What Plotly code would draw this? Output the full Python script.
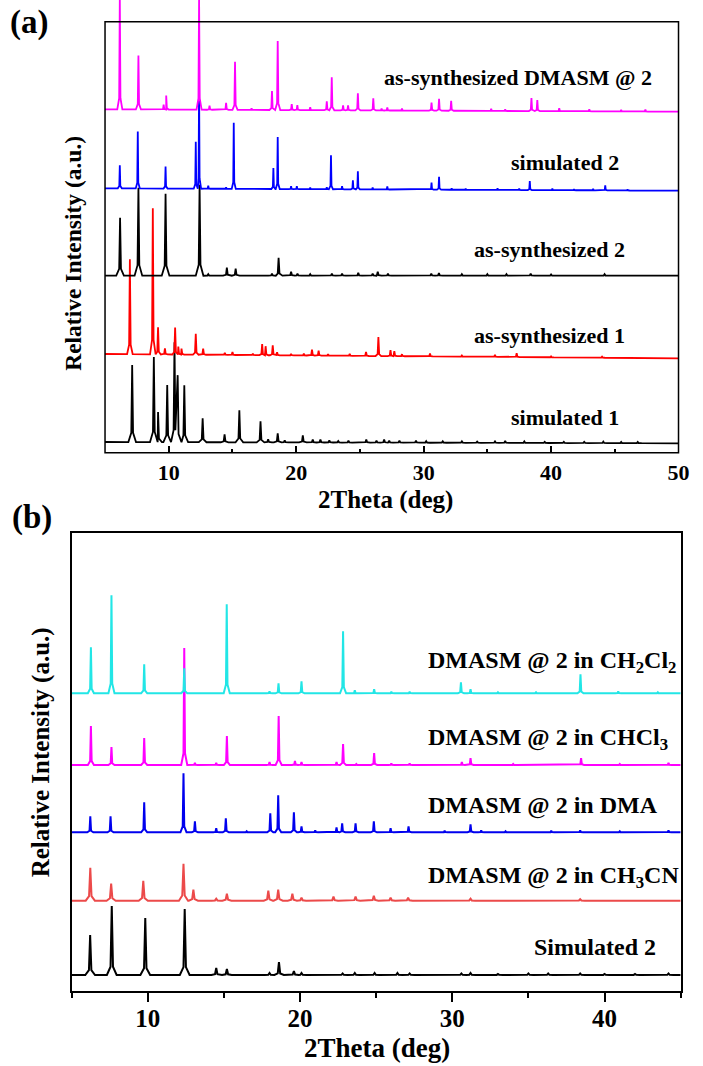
import plotly.graph_objects as go

# ---------------- data: powder XRD peak lists (2theta in deg, relative height) ----------------
# panel (a)
a_sim1_peaks = [(7.13, 77), (8.83, 85), (9.16, 30), (9.88, 57), (10.45, 100), (10.7, 67), (11.22, 57),
                (12.66, 24), (14.38, 8), (15.54, 32), (17.2, 21), (17.8, 3), (18.55, 9), (19.1, 2),
                (20.52, 7), (21.3, 3), (21.9, 3), (22.6, 2), (23.3, 1.5), (24.1, 2), (25.5, 3), (26.3, 2),
                (26.9, 3), (27.3, 2), (28.1, 2), (29.4, 2), (30.2, 1.5), (31.5, 1.5), (33.0, 1.5),
                (34.2, 1.2), (35.6, 1.5), (36.4, 2), (37.9, 1.5), (39.5, 1.2), (41.0, 1.2), (42.6, 1.2),
                (44.1, 1.5), (45.5, 1.2), (46.8, 1.2)]
a_as1_peaks = [(6.95, 95), (8.75, 146), (9.16, 27), (9.7, 6), (10.5, 27), (10.75, 8), (11.0, 6),
               (12.12, 21), (12.7, 6), (14.4, 2), (15.0, 3), (16.6, 1.5), (17.33, 11), (17.6, 9),
               (18.16, 10), (18.5, 3), (19.6, 1.5), (20.6, 2), (21.24, 6), (21.76, 5), (22.5, 1.5),
               (24.2, 2), (25.48, 4), (26.45, 19), (27.4, 6), (27.7, 5), (28.3, 2), (30.5, 3),
               (33.0, 1.2), (35.6, 2), (37.3, 4), (40.0, 1), (44.0, 1)]
a_as2_peaks = [(6.18, 58), (7.62, 88), (9.75, 82), (12.42, 91), (13.1, 1.5), (14.56, 8), (15.25, 7),
               (18.1, 2), (18.62, 18), (19.6, 4), (20.1, 2), (21.1, 1.5), (22.8, 2), (23.6, 2),
               (24.87, 3), (26.0, 2), (26.4, 4), (27.2, 2), (30.6, 2), (31.2, 2.5), (33.0, 1.5),
               (35.0, 1.5), (36.5, 1.5), (38.4, 2), (40.0, 1.2), (44.2, 1.5)]
a_sim2_peaks = [(6.16, 23), (7.57, 57), (9.75, 22), (12.12, 47), (12.38, 103), (13.1, 3), (14.5, 1.5),
                (15.1, 66), (18.21, 21), (18.55, 52), (19.6, 3), (20.05, 3), (21.1, 1.5), (22.4, 2),
                (22.73, 34), (23.6, 3), (24.45, 9), (24.84, 18), (26.0, 2), (27.15, 3), (30.62, 7),
                (31.21, 13), (32.2, 1.5), (33.3, 1), (35.8, 1.5), (37.5, 1.5), (38.33, 9), (40.1, 1.5),
                (41.8, 1), (43.3, 1.5), (44.25, 5), (46.0, 1)]
a_dmasm_peaks = [(6.16, 112), (7.62, 54), (9.6, 5), (9.8, 14), (12.38, 112), (13.2, 4), (14.5, 7),
                 (15.2, 48), (16.5, 1.5), (18.1, 19), (18.55, 69), (19.65, 6), (20.09, 5), (21.1, 3),
                 (22.4, 9), (22.79, 33), (23.68, 5), (24.07, 5), (24.84, 17), (26.05, 12), (26.7, 2),
                 (27.15, 3), (28.3, 2), (30.62, 8), (31.21, 12), (32.16, 10), (35.3, 2), (36.4, 1.5),
                 (38.46, 13), (38.92, 11), (40.64, 3), (43.0, 2), (45.5, 1.5), (47.4, 2)]

# panel (b)
b_sim2_peaks = [(6.22, 40), (7.64, 69), (9.84, 57), (12.43, 66), (14.5, 7), (15.2, 6), (18.0, 2),
                (18.62, 13), (19.6, 4), (20.1, 2), (22.8, 1.5), (23.6, 2), (24.9, 2), (26.4, 2),
                (27.2, 1.5), (30.6, 1.5), (31.2, 2), (33.0, 1), (35.0, 1.5), (36.3, 1.5), (38.4, 1.5),
                (40.0, 1), (42.0, 1), (44.2, 1.5)]
b_ch3cn_peaks = [(6.23, 33), (7.6, 17), (9.71, 20), (12.35, 37), (13.0, 11), (14.5, 2), (15.2, 7),
                 (17.92, 10), (18.57, 11), (19.5, 7), (20.1, 3), (22.2, 4), (23.65, 4), (24.85, 5),
                 (25.95, 3), (27.1, 3), (31.2, 2), (38.4, 1.5)]
b_dma_peaks = [(6.23, 16), (7.56, 16), (9.77, 30), (12.35, 59), (13.1, 11), (14.5, 4), (15.13, 14),
               (16.5, 1), (18.05, 19), (18.57, 37), (19.6, 20), (20.1, 6), (21.0, 2), (22.4, 5),
               (22.77, 9), (23.65, 9), (24.85, 11), (25.95, 4), (27.13, 6), (29.5, 1.5), (31.2, 8),
               (31.9, 2), (33.5, 1), (36.5, 1.5), (38.4, 2), (41.0, 1), (44.2, 2)]
b_chcl3_peaks = [(6.27, 39), (7.62, 18), (9.77, 27), (12.4, 117), (13.1, 2), (14.5, 2), (15.2, 29),
                 (18.0, 3), (18.6, 49), (19.67, 4), (20.1, 3), (22.4, 3), (22.83, 21), (23.7, 1),
                 (24.87, 12), (26.0, 1.5), (27.2, 1.5), (30.63, 3), (31.2, 7), (34.0, 1), (38.46, 7),
                 (41.0, 1), (44.2, 2)]
b_ch2cl2_peaks = [(6.27, 46), (7.62, 98), (9.77, 29), (12.4, 25), (15.19, 89), (18.0, 2), (18.59, 10),
                  (20.1, 12), (22.83, 62), (23.6, 3), (24.87, 4), (26.0, 1.5), (27.2, 1.5), (30.57, 11),
                  (31.2, 4), (33.0, 1), (35.5, 1), (38.42, 19), (40.9, 2), (43.5, 1)]

# stacking offsets (baseline at left / right end of the scan)
a_offsets = {"sim1": (10.7, 9.4), "as1": (98.7, 94.4), "as2": (177.0, 177.0),
             "sim2": (264.4, 262.0), "dmasm": (343.4, 341.0)}
b_offsets = {"sim2": (16.0, 16.0), "ch3cn": (90.3, 90.3), "dma": (158.7, 158.7),
             "chcl3": (226.0, 226.0), "ch2cl2": (297.7, 297.7)}

a_labels = ["simulated 1", "as-synthesized 1", "as-synthesized 2", "simulated 2",
            "as-synthesized DMASM @ 2"]
b_labels = ["Simulated 2", "DMASM @ 2 in CH<sub>3</sub>CN", "DMASM @ 2 in DMA",
            "DMASM @ 2 in CHCl<sub>3</sub>", "DMASM @ 2 in CH<sub>2</sub>Cl<sub>2</sub>"]
a_ticks = [10, 20, 30, 40, 50]
b_ticks = [10, 20, 30, 40]

FONT = "Liberation Serif"
W, H = 703, 1066


def pattern(peaks, base, x0, x1, foot, shoulder, frac):
    """Polyline of a stick-like diffraction pattern: each peak rises from the
    baseline through a shoulder to its apex and falls back again."""
    b0, b1 = base

    def bl(x):
        return b0 + (b1 - b0) * (x - x0) / (x1 - x0)

    xs, ys = [x0], [bl(x0)]
    for pos, h in sorted(peaks):
        for px, ph in ((pos - foot, 0.0), (pos - shoulder, frac * h)):
            if px > xs[-1]:
                xs.append(px); ys.append(bl(px) + ph)
        while len(xs) > 1 and xs[-1] >= pos:
            xs.pop(); ys.pop()
        xs.append(pos); ys.append(bl(pos) + h)
        for px, ph in ((pos + shoulder, frac * h), (pos + foot, 0.0)):
            xs.append(px); ys.append(bl(px) + ph)
    xs.append(x1); ys.append(bl(x1))
    return xs, ys


fig = go.Figure()

a_series = [
    (a_sim1_peaks, a_offsets["sim1"], "#000000", (0.30, 0.07, 0.12)),
    (a_as1_peaks, a_offsets["as1"], "#FF0000", (0.22, 0.06, 0.10)),
    (a_as2_peaks, a_offsets["as2"], "#000000", (0.30, 0.07, 0.12)),
    (a_sim2_peaks, a_offsets["sim2"], "#0000FF", (0.16, 0.04, 0.10)),
    (a_dmasm_peaks, a_offsets["dmasm"], "#FF00FF", (0.20, 0.05, 0.10)),
]
for peaks, base, color, shape in a_series:
    xs, ys = pattern(peaks, base, 5, 50, *shape)
    fig.add_trace(go.Scatter(x=xs, y=ys, mode="lines", xaxis="x", yaxis="y",
                             line=dict(color=color, width=1.8), hoverinfo="skip"))

b_series = [
    (b_sim2_peaks, b_offsets["sim2"], "#000000", (0.32, 0.08, 0.12)),
    (b_ch3cn_peaks, b_offsets["ch3cn"], "#EC4A4A", (0.30, 0.08, 0.14)),
    (b_dma_peaks, b_offsets["dma"], "#0000EE", (0.20, 0.05, 0.10)),
    (b_chcl3_peaks, b_offsets["chcl3"], "#FF00FF", (0.20, 0.05, 0.10)),
    (b_ch2cl2_peaks, b_offsets["ch2cl2"], "#22E6E6", (0.20, 0.05, 0.10)),
]
for peaks, base, color, shape in b_series:
    xs, ys = pattern(peaks, base, 5, 45, *shape)
    fig.add_trace(go.Scatter(x=xs, y=ys, mode="lines", xaxis="x2", yaxis="y2",
                             line=dict(color=color, width=2), hoverinfo="skip"))

# pixel geometry of the two frames
A_L, A_R, A_T, A_B = 106.7, 689.3, 21.7, 452.7
B_L, B_R, B_T, B_B = 72.7, 691.5, 533.0, 991.0


def px(x):
    return x / W


def py(y):
    return 1 - y / H


tick_common = dict(showgrid=False, zeroline=False, tickcolor="black", tickwidth=1.5)

fig.update_layout(
    width=W, height=H, margin=dict(l=0, r=0, t=0, b=0),
    paper_bgcolor="white", plot_bgcolor="white", showlegend=False,
    xaxis=dict(domain=[px(A_L), px(A_R)], anchor="y", range=[5, 50], tickvals=a_ticks,
               ticks="inside", ticklen=7, showline=False, ticklabelstandoff=4,
               minor=dict(dtick=5, tick0=0, ticks="inside", ticklen=4, tickcolor="black", tickwidth=1.5),
               tickfont=dict(family=FONT, size=22, color="black", weight="bold"), **tick_common),
    yaxis=dict(domain=[py(A_B), 1], anchor="x", range=[0, A_B], showticklabels=False, ticks="",
               showline=False, showgrid=False, zeroline=False),
    xaxis2=dict(domain=[px(B_L), px(B_R)], anchor="y2", range=[5, 45], tickvals=b_ticks,
                ticks="outside", ticklen=9, showline=True, mirror=True, linecolor="black", linewidth=1.5,
                ticklabelstandoff=-5,
                minor=dict(dtick=5, tick0=0, ticks="outside", ticklen=5, tickcolor="black", tickwidth=1.5),
                tickfont=dict(family=FONT, size=25, color="black", weight="bold"), **tick_common),
    yaxis2=dict(domain=[py(B_B), py(B_T)], anchor="x2", range=[0, B_B - B_T], showticklabels=False,
                ticks="", showline=True, mirror=True, linecolor="black", linewidth=1.5,
                showgrid=False, zeroline=False),
    shapes=[dict(type="rect", xref="paper", yref="paper", x0=px(A_L), x1=px(A_R), y0=py(A_B), y1=py(A_T),
                 line=dict(color="black", width=1.5), fillcolor="rgba(0,0,0,0)", layer="above")],
)


def note(text, x, y, size, xanchor="left", angle=0):
    fig.add_annotation(text=text, x=px(x), y=py(y), xref="paper", yref="paper", showarrow=False,
                       xanchor=xanchor, yanchor="middle", textangle=angle,
                       font=dict(family=FONT, size=size, color="black", weight="bold"))


# series labels, panel (a)
for text, (x, y) in zip(a_labels, [(517, 418), (480, 335), (480, 250), (517, 163), (388, 77)]):
    note(text, x, y, 22)
# series labels, panel (b)
for text, (x, y) in zip(b_labels, [(540, 947), (433, 877), (433, 805), (433, 739), (433, 662)]):
    note(text, x, y, 24)

# panel tags, axis titles
note("(a)", 8, 22, 33)
note("(b)", 10, 518, 33)
note("2Theta (deg)", 392, 500, 25, xanchor="center")
note("2Theta (deg)", 383, 1048, 27, xanchor="center")
note("Relative Intensity (a.u.)", 74, 253, 23.5, xanchor="center", angle=-90)
note("Relative Intensity (a.u.)", 42, 752, 25, xanchor="center", angle=-90)

fig.write_html("out.html")
